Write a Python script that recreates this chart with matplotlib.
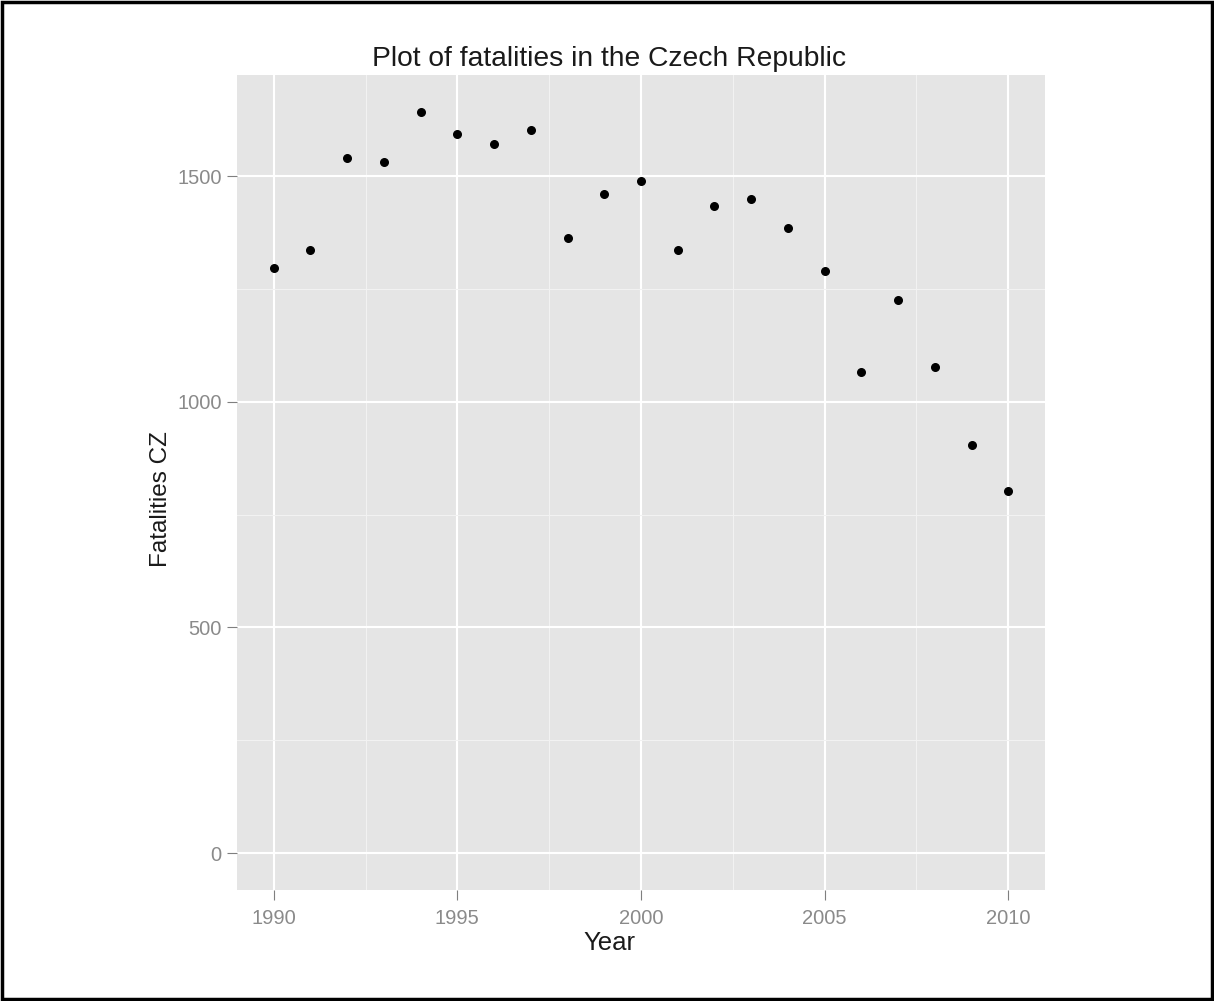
import numpy as np
import matplotlib.pyplot as plt
from matplotlib.patches import Rectangle

years = np.arange(1990, 2011)
fatalities = [1296, 1336, 1542, 1531, 1643, 1594, 1573, 1603, 1364, 1460, 1490,
              1336, 1434, 1450, 1386, 1291, 1066, 1226, 1078, 905, 803]

x_ticks = [1990, 1995, 2000, 2005, 2010]
y_ticks = [0, 500, 1000, 1500]

plt.rcParams['font.family'] = ['Liberation Sans', 'DejaVu Sans']

fig = plt.figure(figsize=(12.14, 10.01), dpi=100)
ax = fig.add_axes([0.1952, 0.1109, 0.6656, 0.8142])
ax.set_facecolor('#E5E5E5')

ax.set_xlim(1989, 2011)
ax.set_ylim(-82, 1725)

ax.set_xticks(x_ticks)
ax.set_yticks(y_ticks)
ax.set_xticks([1992.5, 1997.5, 2002.5, 2007.5], minor=True)
ax.set_yticks([250, 750, 1250], minor=True)
ax.grid(which='major', color='white', linewidth=1.5)
ax.grid(which='minor', color='#F2F2F2', linewidth=0.8)
ax.set_axisbelow(True)

for s in ax.spines.values():
    s.set_visible(False)

ax.tick_params(which='major', length=7, width=0.8, color='#7F7F7F',
               labelcolor='#8A8A8A', labelsize=14.5, pad=4)
ax.tick_params(axis='x', which='major', pad=7)
ax.tick_params(which='minor', length=0)

ax.scatter(years, fatalities, s=30, color='black', zorder=3)

# title and axis labels placed like the ggplot original (centred on the whole plot)
fig.text(0.5016, 0.941, 'Plot of fatalities in the Czech Republic',
         fontsize=20.3, ha='center', va='center', color='#1A1A1A')
fig.text(0.5016, 0.0579, 'Year', fontsize=18.5, ha='center', va='center',
         color='#1A1A1A')
fig.text(0.1325, 0.5015, 'Fatalities CZ', fontsize=17.5, ha='center',
         va='center', rotation=90, color='#1A1A1A')

fig.add_artist(Rectangle((0.002, 0.002), 0.996, 0.996, transform=fig.transFigure,
                         fill=False, edgecolor='black', linewidth=2.5))

fig.savefig('out.png', dpi=100)
